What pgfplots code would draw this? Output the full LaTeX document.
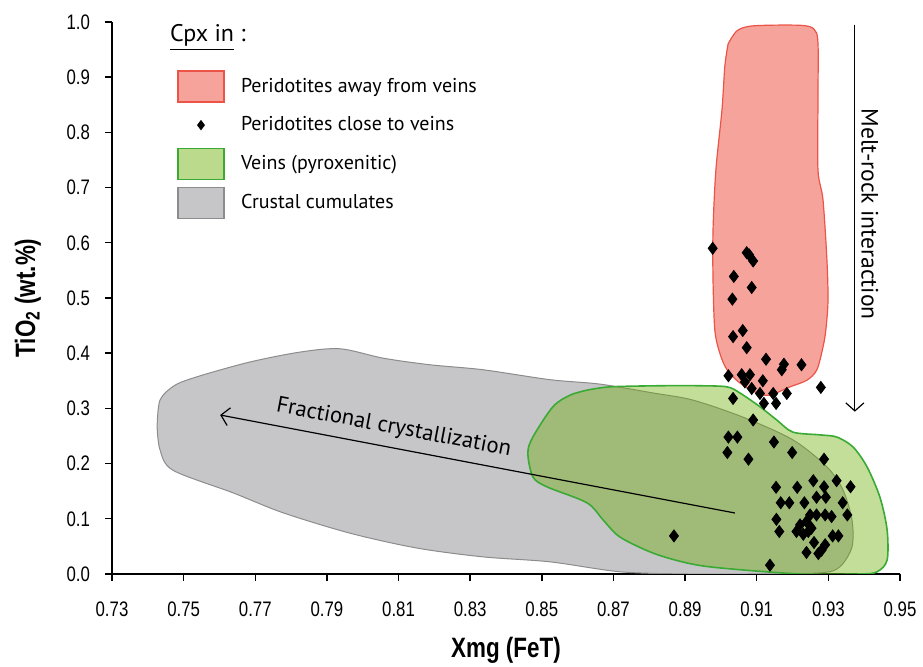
\documentclass[border=0pt]{standalone}
\usepackage{fontspec}
\setmainfont{PT Sans}
\newfontfamily\narrowfam[FakeStretch=0.8]{Liberation Sans}
\usepackage{pgfplots}
\pgfplotsset{compat=1.18}
\usetikzlibrary{arrows.meta}
\definecolor{redfill}{RGB}{246,163,156}
\definecolor{redline}{RGB}{236,84,72}
\definecolor{greenfill}{RGB}{105,172,0}
\definecolor{greenline}{RGB}{58,170,53}
\definecolor{greyfill}{RGB}{198,197,200}
\definecolor{greyline}{RGB}{140,140,140}
\newcommand\tickfont{\narrowfam\fontsize{10.5}{12}\selectfont}
\newcommand\labfont{\narrowfam\bfseries\fontsize{14}{16}\selectfont}
\newcommand\legfont{\fontsize{10}{12}\selectfont}
\begin{document}
\begin{tikzpicture}
\begin{axis}[
  name=ax, scale only axis, width=394pt, height=276pt,
  xmin=0.73, xmax=0.95, ymin=0, ymax=1,
  axis x line*=bottom, axis y line*=left,
  axis line style={line width=0.7pt, black},
  tick align=outside, major tick length=3.5pt,
  tick style={line width=0.7pt, black},
  xtick={0.73,0.75,0.77,0.79,0.81,0.83,0.85,0.87,0.89,0.91,0.93,0.95},
  ytick={0,0.1,0.2,0.3,0.4,0.5,0.6,0.7,0.8,0.9,1.0},
  /pgf/number format/assume math mode=true,
  x tick label style={/pgf/number format/fixed, /pgf/number format/fixed zerofill, /pgf/number format/precision=2, font=\tickfont, yshift=-7pt},
  y tick label style={/pgf/number format/fixed, /pgf/number format/fixed zerofill, /pgf/number format/precision=1, font=\tickfont, xshift=-4pt},
  xlabel={Xmg (FeT)},
  ylabel={TiO\textsubscript{2} (wt.\%)},
  xlabel style={font=\labfont, at={(axis description cs:0.5,-0.138)}, anchor=center},
  ylabel style={font=\labfont, at={(axis description cs:-0.1066,0.5)}, anchor=center},
  legend style={draw=none, fill=none, at={(axis description cs:0.0825,0.913)}, anchor=north west,
    inner sep=0pt, row sep=3.5pt, font=\legfont, nodes={inner sep=0pt}},
  legend cell align=left,
]
\addlegendimage{legend image code/.code={\draw[fill=redfill,draw=redline,line width=0.6pt] (0pt,-7.75pt) rectangle (23pt,7.75pt); \path[draw=none,fill=none] (31.5pt,0pt);}}
\addlegendentry{Peridotites away from veins}
\addlegendimage{legend image code/.code={\path[draw=none,fill=none] (0pt,-7.75pt) (31.5pt,7.75pt); \draw[black, mark=diamond*, mark size=2.3pt] plot coordinates {(11.5pt,0pt)};}}
\addlegendentry{Peridotites close to veins}
\addlegendimage{legend image code/.code={\draw[fill=greenfill!45!white,draw=greenline,line width=0.6pt] (0pt,-7.75pt) rectangle (23pt,7.75pt); \path[draw=none,fill=none] (31.5pt,0pt);}}
\addlegendentry{Veins (pyroxenitic)}
\addlegendimage{legend image code/.code={\draw[fill=greyfill,draw=greyline,line width=0.6pt] (0pt,-7.75pt) rectangle (23pt,7.75pt); \path[draw=none,fill=none] (31.5pt,0pt);}}
\addlegendentry{Crustal cumulates}

% Crustal cumulates
\addplot[forget plot, smooth, tension=0.5, fill=greyfill, draw=greyline, line width=0.5pt] coordinates {
(0.7426,0.266) (0.7434,0.315) (0.7476,0.342) (0.7546,0.359) (0.7685,0.384) (0.7825,0.402)
(0.7937,0.408) (0.8057,0.391) (0.8188,0.379) (0.8336,0.370) (0.8523,0.352) (0.8662,0.344)
(0.8810,0.328) (0.8922,0.315) (0.9062,0.284) (0.9201,0.243) (0.9296,0.194) (0.9341,0.152)
(0.9366,0.098) (0.9366,0.049) (0.9332,0.013) (0.9277,0.002) (0.9080,0.000) (0.8905,0.000)
(0.8718,0.004) (0.8523,0.022) (0.8336,0.031) (0.8151,0.047) (0.7964,0.074) (0.7777,0.111)
(0.7638,0.147) (0.7470,0.188) (0.7434,0.225) (0.7426,0.266)} -- cycle;

% Veins
\addplot[forget plot, smooth, tension=0.5, fill=greenfill, fill opacity=0.4, draw=greenline, line width=0.8pt] coordinates {
(0.8626,0.333) (0.8690,0.339) (0.8830,0.341) (0.8941,0.341) (0.9017,0.339) (0.9053,0.328)
(0.9109,0.303) (0.9156,0.279) (0.9201,0.257) (0.9277,0.252) (0.9324,0.248) (0.9369,0.230)
(0.9408,0.194) (0.9444,0.139) (0.9464,0.080) (0.9464,0.025) (0.9436,0.004) (0.9388,0.000)
(0.9221,0.000) (0.8997,0.011) (0.8905,0.020) (0.8810,0.038) (0.8718,0.067) (0.8671,0.098)
(0.8626,0.129) (0.8514,0.158) (0.8475,0.176) (0.8461,0.219) (0.8475,0.248) (0.8531,0.303)
(0.8579,0.324) (0.8626,0.333)} -- cycle;

% Peridotites away from veins
\addplot[forget plot, smooth, tension=0.5, fill=redfill, draw=redline, line width=0.6pt] coordinates {
(0.9020,0.960) (0.9045,0.984) (0.9090,0.993) (0.9221,0.994) (0.9260,0.987) (0.9271,0.962)
(0.9271,0.859) (0.9271,0.732) (0.9285,0.678) (0.9296,0.569) (0.9299,0.496) (0.9293,0.442)
(0.9285,0.411) (0.9268,0.370) (0.9240,0.351) (0.9193,0.339) (0.9137,0.324) (0.9101,0.328)
(0.9053,0.346) (0.9017,0.370) (0.8997,0.400) (0.8983,0.442) (0.8978,0.533) (0.8978,0.623)
(0.8986,0.732) (0.9003,0.841) (0.9011,0.920) (0.9020,0.960)} -- cycle;

% Peridotites close to veins
\addplot[forget plot, only marks, mark=diamond*, mark size=3pt, black] table {
x y
0.8977 0.590
0.9072 0.582
0.9079 0.578
0.9090 0.567
0.9036 0.539
0.9086 0.519
0.9032 0.498
0.9061 0.441
0.9034 0.430
0.9072 0.410
0.9126 0.389
0.9176 0.380
0.9170 0.370
0.9225 0.379
0.9021 0.359
0.9058 0.361
0.9081 0.361
0.9067 0.348
0.9117 0.350
0.9086 0.336
0.9109 0.327
0.9146 0.327
0.9184 0.327
0.9279 0.338
0.9034 0.318
0.9120 0.309
0.9154 0.309
0.9090 0.279
0.9021 0.248
0.9046 0.248
0.9148 0.239
0.9018 0.220
0.9077 0.208
0.9199 0.220
0.9288 0.208
0.9258 0.169
0.9323 0.169
0.9362 0.158
0.9154 0.157
0.9213 0.157
0.9288 0.158
0.9267 0.139
0.9293 0.139
0.9167 0.129
0.9191 0.129
0.9233 0.129
0.9340 0.129
0.9249 0.107
0.9267 0.107
0.9291 0.107
0.9309 0.104
0.9353 0.107
0.9155 0.099
0.9221 0.089
0.9239 0.095
0.9253 0.083
0.9163 0.077
0.9211 0.077
0.9230 0.072
0.9244 0.077
0.9312 0.069
0.9328 0.069
0.9260 0.057
0.9291 0.053
0.9281 0.043
0.9239 0.039
0.9272 0.037
0.8869 0.069
0.9137 0.016
};

\node[anchor=base west, font=\fontsize{12}{14}\selectfont] at (axis description cs:0.0647,0.964) {\underline{Cpx in} :};
\draw[line width=0.6pt, {Straight Barb[length=4pt,width=9pt]}-] (axis cs:0.7602,0.288) -- (axis cs:0.9039,0.1105)
  node[pos=0.33, sloped, above=1pt, font=\fontsize{11.3}{13}\selectfont] {Fractional crystallization};
\draw[line width=0.6pt, -{Straight Barb[length=4pt,width=9pt]}] (axis cs:0.9374,0.995) -- (axis cs:0.9374,0.294);
\node[rotate=-90, font=\fontsize{11.8}{14}\selectfont] at (axis cs:0.9416,0.652) {Melt-rock interaction};
\end{axis}
\pgfresetboundingbox
\path[use as bounding box] ([xshift=-56pt,yshift=-46.5pt]ax.south west) rectangle ++(461.5pt,333.5pt);
\end{tikzpicture}
\end{document}
